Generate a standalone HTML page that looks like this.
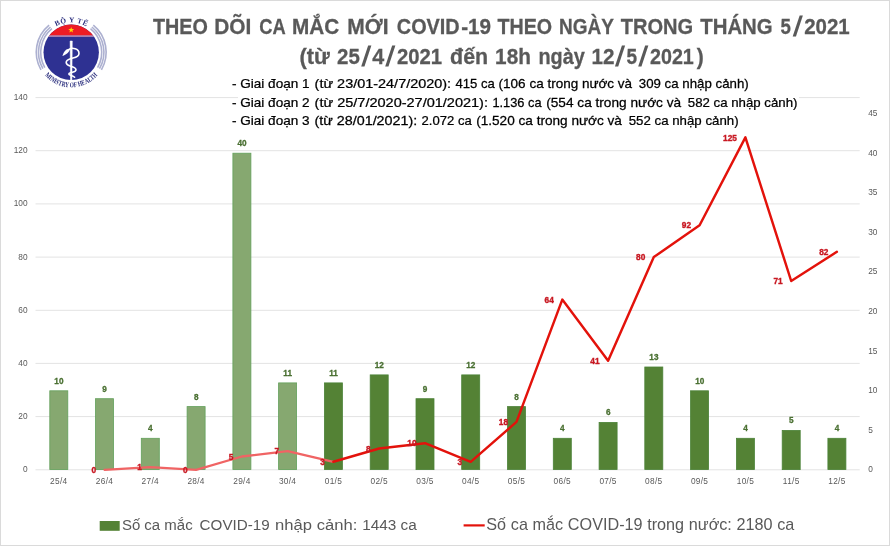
<!DOCTYPE html>
<html lang="vi"><head><meta charset="utf-8"><title>Theo dõi ca mắc mới COVID-19</title>
<style>html,body{margin:0;padding:0;background:#fff}body{width:890px;height:546px;overflow:hidden;font-family:"Liberation Sans",sans-serif}svg{display:block}text{font-family:"Liberation Sans",sans-serif}.ser{font-family:"Liberation Serif",serif}</style></head><body>
<svg width="890" height="546" viewBox="0 0 890 546">
<rect x="0" y="0" width="890" height="546" fill="#fff"/>
<rect x="0.5" y="0.5" width="889" height="545" fill="none" stroke="#dadada" stroke-width="1"/>
<g stroke="#e3e3e3" stroke-width="1">
<line x1="35.5" y1="469.8" x2="859.7" y2="469.8"/>
<line x1="35.5" y1="416.6" x2="859.7" y2="416.6"/>
<line x1="35.5" y1="363.4" x2="859.7" y2="363.4"/>
<line x1="35.5" y1="310.3" x2="859.7" y2="310.3"/>
<line x1="35.5" y1="257.1" x2="859.7" y2="257.1"/>
<line x1="35.5" y1="203.9" x2="859.7" y2="203.9"/>
<line x1="35.5" y1="150.7" x2="859.7" y2="150.7"/>
<line x1="35.5" y1="97.6" x2="238" y2="97.6"/><line x1="799" y1="97.6" x2="859.7" y2="97.6"/>
</g>
<g fill="#595959" font-size="8.3" text-anchor="end">
<text x="27.6" y="472.3">0</text>
<text x="27.6" y="419.1">20</text>
<text x="27.6" y="365.9">40</text>
<text x="27.6" y="312.8">60</text>
<text x="27.6" y="259.6">80</text>
<text x="27.6" y="206.4">100</text>
<text x="27.6" y="153.2">120</text>
<text x="27.6" y="100.1">140</text>
</g>
<g fill="#595959" font-size="8.3" text-anchor="start">
<text x="868.2" y="472.3">0</text>
<text x="868.2" y="432.7">5</text>
<text x="868.2" y="393.1">10</text>
<text x="868.2" y="353.5">15</text>
<text x="868.2" y="313.9">20</text>
<text x="868.2" y="274.4">25</text>
<text x="868.2" y="234.8">30</text>
<text x="868.2" y="195.2">35</text>
<text x="868.2" y="155.6">40</text>
<text x="868.2" y="116.0">45</text>
</g>
<g fill="#595959" font-size="8.3" text-anchor="middle" letter-spacing="0.3">
<text x="58.8" y="484.3">25/4</text>
<text x="104.5" y="484.3">26/4</text>
<text x="150.3" y="484.3">27/4</text>
<text x="196.1" y="484.3">28/4</text>
<text x="241.9" y="484.3">29/4</text>
<text x="287.6" y="484.3">30/4</text>
<text x="333.4" y="484.3">01/5</text>
<text x="379.2" y="484.3">02/5</text>
<text x="425.0" y="484.3">03/5</text>
<text x="470.7" y="484.3">04/5</text>
<text x="516.5" y="484.3">05/5</text>
<text x="562.3" y="484.3">06/5</text>
<text x="608.1" y="484.3">07/5</text>
<text x="653.8" y="484.3">08/5</text>
<text x="699.6" y="484.3">09/5</text>
<text x="745.4" y="484.3">10/5</text>
<text x="791.2" y="484.3">11/5</text>
<text x="836.9" y="484.3">12/5</text>
</g>
<rect x="49.8" y="390.8" width="18.0" height="78.8" fill="#86a870" stroke="#62a05a" stroke-width="0.8"/>
<rect x="95.5" y="398.7" width="18.0" height="70.9" fill="#86a870" stroke="#62a05a" stroke-width="0.8"/>
<rect x="141.3" y="438.3" width="18.0" height="31.3" fill="#86a870" stroke="#62a05a" stroke-width="0.8"/>
<rect x="187.1" y="406.6" width="18.0" height="62.9" fill="#86a870" stroke="#62a05a" stroke-width="0.8"/>
<rect x="232.9" y="153.2" width="18.0" height="316.3" fill="#86a870" stroke="#62a05a" stroke-width="0.8"/>
<rect x="278.6" y="382.9" width="18.0" height="86.7" fill="#86a870" stroke="#62a05a" stroke-width="0.8"/>
<rect x="324.4" y="382.9" width="18.0" height="86.7" fill="#548235" stroke="#4b8238" stroke-width="0.8"/>
<rect x="370.2" y="374.9" width="18.0" height="94.6" fill="#548235" stroke="#4b8238" stroke-width="0.8"/>
<rect x="416.0" y="398.7" width="18.0" height="70.9" fill="#548235" stroke="#4b8238" stroke-width="0.8"/>
<rect x="461.7" y="374.9" width="18.0" height="94.6" fill="#548235" stroke="#4b8238" stroke-width="0.8"/>
<rect x="507.5" y="406.6" width="18.0" height="62.9" fill="#548235" stroke="#4b8238" stroke-width="0.8"/>
<rect x="553.3" y="438.3" width="18.0" height="31.3" fill="#548235" stroke="#4b8238" stroke-width="0.8"/>
<rect x="599.1" y="422.4" width="18.0" height="47.1" fill="#548235" stroke="#4b8238" stroke-width="0.8"/>
<rect x="644.8" y="367.0" width="18.0" height="102.5" fill="#548235" stroke="#4b8238" stroke-width="0.8"/>
<rect x="690.6" y="390.8" width="18.0" height="78.8" fill="#548235" stroke="#4b8238" stroke-width="0.8"/>
<rect x="736.4" y="438.3" width="18.0" height="31.3" fill="#548235" stroke="#4b8238" stroke-width="0.8"/>
<rect x="782.2" y="430.4" width="18.0" height="39.2" fill="#548235" stroke="#4b8238" stroke-width="0.8"/>
<rect x="827.9" y="438.3" width="18.0" height="31.3" fill="#548235" stroke="#4b8238" stroke-width="0.8"/>
<g fill="#4a7032" stroke="#4a7032" stroke-width="0.3" font-size="8.2" font-weight="bold" text-anchor="middle">
<text x="58.9" y="383.7">10</text>
<text x="104.6" y="391.6">9</text>
<text x="150.4" y="431.2">4</text>
<text x="196.2" y="399.5">8</text>
<text x="242.0" y="146.1">40</text>
<text x="287.7" y="375.8">11</text>
<text x="333.5" y="375.8">11</text>
<text x="379.3" y="367.8">12</text>
<text x="425.1" y="391.6">9</text>
<text x="470.8" y="367.8">12</text>
<text x="516.6" y="399.5">8</text>
<text x="562.4" y="431.2">4</text>
<text x="608.2" y="415.3">6</text>
<text x="653.9" y="359.9">13</text>
<text x="699.7" y="383.7">10</text>
<text x="745.5" y="431.2">4</text>
<text x="791.3" y="423.3">5</text>
<text x="837.0" y="431.2">4</text>
</g>
<polyline fill="none" stroke="#f06464" stroke-width="2.3" stroke-linejoin="round" stroke-linecap="round" points="104.5,469.8 150.3,467.1 196.1,469.8 241.9,456.5 287.6,451.2 333.4,461.8"/>
<polyline fill="none" stroke="#e3120b" stroke-width="2.45" stroke-linejoin="round" stroke-linecap="round" points="333.4,461.8 379.2,448.5 425.0,443.2 470.7,461.8 516.5,421.9 562.3,299.6 608.1,360.8 653.8,257.1 699.6,225.2 745.4,137.4 791.2,281.0 836.9,251.8"/>
<g fill="#c81822" stroke="#c81822" stroke-width="0.35" font-size="8.3" font-weight="bold" text-anchor="end">
<text x="96.0" y="473.0">0</text>
<text x="141.8" y="470.3">1</text>
<text x="187.6" y="473.0">0</text>
<text x="233.4" y="459.7">5</text>
<text x="279.1" y="454.4">7</text>
<text x="324.9" y="465.0">3</text>
<text x="370.7" y="451.7">8</text>
<text x="416.5" y="446.4">10</text>
<text x="462.2" y="465.0">3</text>
<text x="508.0" y="425.1">18</text>
<text x="553.8" y="302.8">64</text>
<text x="599.6" y="364.0">41</text>
<text x="645.3" y="260.3">80</text>
<text x="691.1" y="228.4">92</text>
<text x="736.9" y="140.6">125</text>
<text x="782.7" y="284.2">71</text>
<text x="828.4" y="255.0">82</text>
</g>
<text transform="translate(152.90 33.85) scale(0.8633 1)" font-size="22.9" font-weight="bold" fill="#595959" stroke="#595959" stroke-width="0.3">THEO</text>
<text transform="translate(214.29 33.85) scale(0.9130 1)" font-size="22.9" font-weight="bold" fill="#595959" stroke="#595959" stroke-width="0.3">DÕI</text>
<text transform="translate(259.30 33.85) scale(0.7992 1)" font-size="22.9" font-weight="bold" fill="#595959" stroke="#595959" stroke-width="0.3">CA</text>
<text transform="translate(292.09 33.85) scale(0.9052 1)" font-size="22.9" font-weight="bold" fill="#595959" stroke="#595959" stroke-width="0.3">MẮC</text>
<text transform="translate(347.28 33.85) scale(0.9180 1)" font-size="22.9" font-weight="bold" fill="#595959" stroke="#595959" stroke-width="0.3">MỚI</text>
<text transform="translate(396.80 33.85) scale(0.8671 1)" font-size="22.9" font-weight="bold" fill="#595959" stroke="#595959" stroke-width="0.3">COVID</text>
<text transform="translate(461.20 33.85) scale(0.9056 1)" font-size="22.9" font-weight="bold" fill="#595959" stroke="#595959" stroke-width="0.3">-19</text>
<text transform="translate(497.40 33.85) scale(0.8601 1)" font-size="22.9" font-weight="bold" fill="#595959" stroke="#595959" stroke-width="0.3">THEO</text>
<text transform="translate(558.97 33.85) scale(0.8294 1)" font-size="22.9" font-weight="bold" fill="#595959" stroke="#595959" stroke-width="0.3">NGÀY</text>
<text transform="translate(620.70 33.85) scale(0.8772 1)" font-size="22.9" font-weight="bold" fill="#595959" stroke="#595959" stroke-width="0.3">TRONG</text>
<text transform="translate(700.20 33.85) scale(0.8911 1)" font-size="22.9" font-weight="bold" fill="#595959" stroke="#595959" stroke-width="0.3">THÁNG</text>
<text transform="translate(780.60 33.85) scale(0.8154 1)" font-size="22.9" font-weight="bold" fill="#595959" stroke="#595959" stroke-width="0.3">5</text>
<text transform="translate(804.20 33.85) scale(0.8947 1)" font-size="22.9" font-weight="bold" fill="#595959" stroke="#595959" stroke-width="0.3">2021</text>
<text transform="translate(299.55 63.50) scale(0.9537 1)" font-size="22.9" font-weight="bold" fill="#595959" stroke="#595959" stroke-width="0.3">(từ</text>
<text transform="translate(337.00 63.50) scale(0.8939 1)" font-size="22.9" font-weight="bold" fill="#595959" stroke="#595959" stroke-width="0.3">25</text>
<text transform="translate(372.20 63.50) scale(0.9385 1)" font-size="22.9" font-weight="bold" fill="#595959" stroke="#595959" stroke-width="0.3">4</text>
<text transform="translate(396.90 63.50) scale(0.8849 1)" font-size="22.9" font-weight="bold" fill="#595959" stroke="#595959" stroke-width="0.3">2021</text>
<text transform="translate(450.10 63.50) scale(0.9342 1)" font-size="22.9" font-weight="bold" fill="#595959" stroke="#595959" stroke-width="0.3">đến</text>
<text transform="translate(495.09 63.50) scale(0.9076 1)" font-size="22.9" font-weight="bold" fill="#595959" stroke="#595959" stroke-width="0.3">18h</text>
<text transform="translate(538.43 63.50) scale(0.8672 1)" font-size="22.9" font-weight="bold" fill="#595959" stroke="#595959" stroke-width="0.3">ngày</text>
<text transform="translate(591.60 63.50) scale(0.9018 1)" font-size="22.9" font-weight="bold" fill="#595959" stroke="#595959" stroke-width="0.3">12</text>
<text transform="translate(626.50 63.50) scale(0.8308 1)" font-size="22.9" font-weight="bold" fill="#595959" stroke="#595959" stroke-width="0.3">5</text>
<text transform="translate(650.00 63.50) scale(0.8595 1)" font-size="22.9" font-weight="bold" fill="#595959" stroke="#595959" stroke-width="0.3">2021</text>
<text transform="translate(696.80 63.50) scale(0.9143 1)" font-size="22.9" font-weight="bold" fill="#595959" stroke="#595959" stroke-width="0.3">)</text>
<text transform="translate(232.00 88.00) scale(1.0431 1)" font-size="13.0" fill="#000" stroke="#000" stroke-width="0.25">- Giai đoạn 1</text>
<text transform="translate(314.60 88.00) scale(1.1122 1)" font-size="13.0" fill="#000" stroke="#000" stroke-width="0.25">(từ 23/01-24/7/2020):</text>
<text transform="translate(455.40 88.00) scale(1.0100 1)" font-size="13.0" fill="#000" stroke="#000" stroke-width="0.25">415 ca</text>
<text transform="translate(498.60 88.00) scale(1.0396 1)" font-size="13.0" fill="#000" stroke="#000" stroke-width="0.25">(106 ca trong nước và</text>
<text transform="translate(638.80 88.00) scale(1.0217 1)" font-size="13.0" fill="#000" stroke="#000" stroke-width="0.25">309 ca nhập cảnh)</text>
<text transform="translate(232.00 106.50) scale(1.0431 1)" font-size="13.0" fill="#000" stroke="#000" stroke-width="0.25">- Giai đoạn 2</text>
<text transform="translate(314.60 106.50) scale(1.1162 1)" font-size="13.0" fill="#000" stroke="#000" stroke-width="0.25">(từ 25/7/2020-27/01/2021):</text>
<text transform="translate(492.40 106.50) scale(0.9873 1)" font-size="13.0" fill="#000" stroke="#000" stroke-width="0.25">1.136 ca</text>
<text transform="translate(546.20 106.50) scale(1.0504 1)" font-size="13.0" fill="#000" stroke="#000" stroke-width="0.25">(554 ca trong nước và</text>
<text transform="translate(687.80 106.50) scale(1.0190 1)" font-size="13.0" fill="#000" stroke="#000" stroke-width="0.25">582 ca nhập cảnh)</text>
<text transform="translate(232.00 125.10) scale(1.0431 1)" font-size="13.0" fill="#000" stroke="#000" stroke-width="0.25">- Giai đoạn 3</text>
<text transform="translate(314.60 125.10) scale(1.1009 1)" font-size="13.0" fill="#000" stroke="#000" stroke-width="0.25">(từ 28/01/2021):</text>
<text transform="translate(421.60 125.10) scale(1.0051 1)" font-size="13.0" fill="#000" stroke="#000" stroke-width="0.25">2.072 ca</text>
<text transform="translate(476.20 125.10) scale(1.0462 1)" font-size="13.0" fill="#000" stroke="#000" stroke-width="0.25">(1.520 ca trong nước và</text>
<text transform="translate(628.70 125.10) scale(1.0208 1)" font-size="13.0" fill="#000" stroke="#000" stroke-width="0.25">552 ca nhập cảnh)</text>
<text transform="translate(121.90 530.20) scale(0.9922 1)" font-size="15.1" fill="#595959">Số ca mắc</text>
<text transform="translate(199.60 530.20) scale(1.0069 1)" font-size="15.1" fill="#595959">COVID-19</text>
<text transform="translate(275.10 530.20) scale(1.1020 1)" font-size="15.1" fill="#595959">nhập cảnh:</text>
<text transform="translate(362.18 530.20) scale(1.0165 1)" font-size="15.1" fill="#595959">1443 ca</text>
<text transform="matrix(1.2 0 -0.18 1.235 792.5 36.1)" font-size="22.9" font-weight="bold" fill="#595959">/</text>
<text transform="matrix(1.2 0 -0.18 1.235 360.9 65.8)" font-size="22.9" font-weight="bold" fill="#595959">/</text>
<text transform="matrix(1.2 0 -0.18 1.235 385.0 65.8)" font-size="22.9" font-weight="bold" fill="#595959">/</text>
<text transform="matrix(1.2 0 -0.18 1.235 614.8 65.8)" font-size="22.9" font-weight="bold" fill="#595959">/</text>
<text transform="matrix(1.2 0 -0.18 1.235 638.0 65.8)" font-size="22.9" font-weight="bold" fill="#595959">/</text>
<rect x="99.7" y="521" width="20" height="9.8" fill="#548235"/>
<line x1="463.6" y1="525.4" x2="484.7" y2="525.4" stroke="#e3120b" stroke-width="2.2"/>
<text x="486.3" y="529.8" font-size="16.2" word-spacing="0.2" fill="#595959">Số ca mắc COVID-19 trong nước: 2180 ca</text>
<g id="logo">
<defs>
<clipPath id="cc"><circle cx="71.2" cy="52.3" r="27.7"/></clipPath>
<path id="tp" d="M 41.2 52.3 A 30 30 0 0 1 101.2 52.3"/>
<path id="bp" d="M 36.2 52.3 A 35 35 0 0 0 106.2 52.3"/>
</defs>
<g fill="none" stroke="#acb0d0" stroke-width="1.6">
<path d="M 51.9 28.7 A 30.5 30.5 0 0 0 44.8 67.6"/>
<path d="M 50.5 27 A 32.7 32.7 0 0 0 42.9 68.7"/>
<path d="M 49.1 25.2 A 34.9 34.9 0 0 0 41 69.8"/>
<path d="M 90.5 28.7 A 30.5 30.5 0 0 1 97.6 67.6"/>
<path d="M 91.9 27 A 32.7 32.7 0 0 1 99.5 68.7"/>
<path d="M 93.3 25.2 A 34.9 34.9 0 0 1 101.4 69.8"/>
</g>
<circle cx="71.2" cy="52.3" r="27.7" fill="#2e3192"/>
<g clip-path="url(#cc)">
<rect x="40" y="20" width="64" height="15.5" fill="#ed1c24"/>
<rect x="40" y="35.5" width="64" height="1.1" fill="#f0b3c6"/>
</g>
<polygon fill="#ffd800" points="71.20,27.00 71.93,29.09 74.15,29.14 72.39,30.49 73.02,32.61 71.20,31.35 69.38,32.61 70.01,30.49 68.25,29.14 70.47,29.09"/>
<path d="M 70.1 41 L 72.3 41 L 71.9 80 L 70.5 80 Z" fill="#fff" stroke="#fff" stroke-width="0.5" stroke-linejoin="round" clip-path="url(#cc)"/>
<path fill="none" stroke="#fff" stroke-linecap="round" stroke-width="1.6" d="M 69.2 49.4 C 72 47.3 79 48.3 79 53.4 C 79 57.3 74 57.5 71.1 58.4 C 68 59.3 66.2 60 66.2 62.4 C 66.200 65 69 65.500 71.1 66.3 C 74 67.3 76 67.6 76 69.8 C 76 72 73 72 71.1 72.5 C 69.5 73 68.8 73.2 68.8 74.100 C 68.8 75.5 73 75.5 74.6 77.2"/>
<path fill="#fff" d="M 69.9 48.8 C 66.8 48.2 63.8 51 62.4 56 C 66.2 54.8 69.4 52.2 69.9 48.8 Z"/>
<g class="ser" fill="#2b2f7e">
<text font-size="7.3" class="ser" font-weight="bold" textLength="31.5"><textPath href="#tp" startOffset="50%" text-anchor="middle" textLength="31.5">BỘ Y TẾ</textPath></text>
<text font-size="7.2" class="ser" font-weight="bold" textLength="60" lengthAdjust="spacingAndGlyphs"><textPath href="#bp" startOffset="50%" text-anchor="middle" textLength="60" lengthAdjust="spacingAndGlyphs">MINISTRY OF HEALTH</textPath></text>
</g>
</g>

</svg></body></html>
